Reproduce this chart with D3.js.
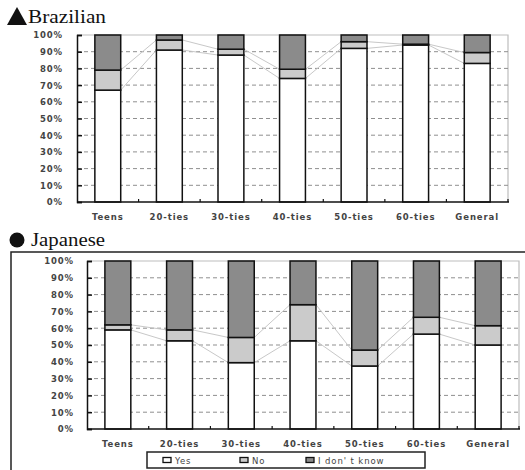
<!DOCTYPE html>
<html>
<head>
<meta charset="utf-8">
<script src="https://cdn.jsdelivr.net/npm/d3@7"></script>
<style>
  html, body { margin: 0; padding: 0; background: #fff; }
  svg { display: block; }
  .tick-label { font-family: "DejaVu Sans", Verdana, sans-serif; font-weight: bold; font-size: 8.5px; fill: #444; letter-spacing: 0.9px; }
  .title { font-family: "Liberation Serif", "Times New Roman", serif; font-size: 18px; fill: #111; }
</style>
</head>
<body>
<script>
// Age groups along the x axis
const categories = ["Teens", "20-ties", "30-ties", "40-ties", "50-ties", "60-ties", "General"];
const seriesNames = ["Yes", "No", "I don' t know"];
const yTicks = [0, 10, 20, 30, 40, 50, 60, 70, 80, 90, 100];

// Brazilian respondents (% of each group)
const brazilYes = [67, 91, 88, 74, 92, 94, 83];
const brazilNo = [12, 6, 3.5, 5.5, 4, 0.5, 6.5];
const brazilDontKnow = [21, 3, 8.5, 20.5, 4, 5.5, 10.5];

// Japanese respondents (% of each group)
const japanYes = [59, 52.5, 39.5, 52.5, 37.5, 56.5, 50];
const japanNo = [3, 6.5, 15, 21.5, 9.5, 10, 11.5];
const japanDontKnow = [38, 41, 45.5, 26, 53, 33.5, 38.5];

const colors = ["#ffffff", "#cbcbcb", "#8b8b8b"];

const W = 525, H = 470;
const svg = d3.select("body").append("svg").attr("width", W).attr("height", H);

function drawPanel(cfg) {
  const { left, right, top, bottom, values, labelEnd } = cfg;
  const g = svg.append("g");

  const x = d3.scaleBand().domain(categories).range([left, right])
    .paddingInner(0.58).paddingOuter(0.29);
  const y = d3.scaleLinear().domain([0, 100]).range([bottom, top]);

  const rows = categories.map((c, i) => {
    const r = { cat: c };
    seriesNames.forEach((s, k) => r[s] = values[k][i]);
    return r;
  });
  const stacked = d3.stack().keys(seriesNames)(rows);

  // plot border (top and right, light)
  g.append("path")
    .attr("d", `M${left},${y(100)}H${right}V${bottom}`)
    .attr("fill", "none").attr("stroke", "#bdbdbd").attr("stroke-width", 1.2);

  // dashed gridlines
  g.selectAll("line.grid").data(yTicks.filter(t => t > 0 && t < 100)).join("line")
    .attr("x1", left).attr("x2", right)
    .attr("y1", d => y(d)).attr("y2", d => y(d))
    .attr("stroke", "#8f8f8f").attr("stroke-width", 1)
    .attr("stroke-dasharray", "4,3");

  // series lines joining the stack boundaries of neighbouring bars
  [0, 1].forEach(k => {
    const layer = stacked[k];
    for (let i = 0; i < categories.length - 1; i++) {
      g.append("line")
        .attr("x1", x(categories[i]) + x.bandwidth())
        .attr("y1", y(layer[i][1]))
        .attr("x2", x(categories[i + 1]))
        .attr("y2", y(layer[i + 1][1]))
        .attr("stroke", "#c8c8c8").attr("stroke-width", 1);
    }
  });

  // stacked bars
  stacked.forEach((layer, k) => {
    g.selectAll(null).data(layer).join("rect")
      .attr("x", d => x(d.data.cat))
      .attr("width", x.bandwidth())
      .attr("y", d => y(d[1]))
      .attr("height", d => Math.max(0, y(d[0]) - y(d[1])))
      .attr("fill", colors[k])
      .attr("stroke", "#111").attr("stroke-width", 1.5);
  });

  // y axis
  const yAxis = d3.axisLeft(y).tickValues(yTicks).tickSize(-5).tickPadding(0).tickFormat(d => d + "%");
  const ya = g.append("g").attr("transform", `translate(${left},0)`).call(yAxis);
  ya.select(".domain").attr("stroke", "#111").attr("stroke-width", 1.5);
  ya.selectAll(".tick line").attr("stroke", "#111").attr("stroke-width", 1.5);
  ya.selectAll(".tick text").attr("class", "tick-label")
    .attr("x", labelEnd - left).attr("dy", "0.35em")
    .attr("text-anchor", "end").attr("font-family", null).attr("font-size", null);

  // x axis
  const xa = g.append("g").attr("transform", `translate(0,${bottom})`)
    .call(d3.axisBottom(x).tickSize(0).tickPadding(0));
  xa.select(".domain").attr("stroke", "#111").attr("stroke-width", 1.5)
    .attr("d", `M${left},0H${right + 1}`);
  xa.selectAll(".tick text").attr("class", "tick-label")
    .attr("y", 18).attr("dy", null)
    .attr("font-family", null).attr("font-size", null);

  // small ticks between categories
  const step = x.step();
  g.selectAll(null).data(d3.range(1, categories.length + 1)).join("line")
    .attr("x1", d => left + d * step).attr("x2", d => left + d * step)
    .attr("y1", bottom).attr("y2", bottom - 3)
    .attr("stroke", "#111").attr("stroke-width", 1.2);
}

// Brazilian panel
svg.append("path").attr("d", "M7,25L17,7L27,25Z").attr("fill", "#111");
svg.append("text").attr("class", "title").attr("x", 28).attr("y", 23)
  .attr("textLength", 78).attr("lengthAdjust", "spacingAndGlyphs").text("Brazilian");

drawPanel({
  left: 77, right: 508, top: 35, bottom: 202, labelEnd: 63,
  values: [brazilYes, brazilNo, brazilDontKnow]
});

// Japanese panel frame
svg.append("path").attr("d", `M11,${H + 2}V252H${W + 2}`)
  .attr("fill", "none").attr("stroke", "#222").attr("stroke-width", 1.5);
svg.append("circle").attr("cx", 17).attr("cy", 240).attr("r", 7.5).attr("fill", "#111");
svg.append("text").attr("class", "title").attr("x", 31).attr("y", 246)
  .attr("textLength", 74).attr("lengthAdjust", "spacingAndGlyphs").text("Japanese");

drawPanel({
  left: 87, right: 519, top: 261, bottom: 429, labelEnd: 74,
  values: [japanYes, japanNo, japanDontKnow]
});

// legend
const legend = svg.append("g");
legend.append("rect").attr("x", 147).attr("y", 452).attr("width", 278).attr("height", 16)
  .attr("fill", "#fff").attr("stroke", "#222").attr("stroke-width", 1.5);
const legendX = [163, 240, 306];
seriesNames.forEach((s, k) => {
  legend.append("rect").attr("x", legendX[k]).attr("y", 457.5).attr("width", 8).attr("height", 5)
    .attr("fill", colors[k]).attr("stroke", "#111").attr("stroke-width", 1.3);
  legend.append("text").attr("class", "tick-label").attr("x", legendX[k] + 12).attr("y", 463.5)
    .style("font-weight", "normal").text(s);
});
</script>
</body>
</html>
